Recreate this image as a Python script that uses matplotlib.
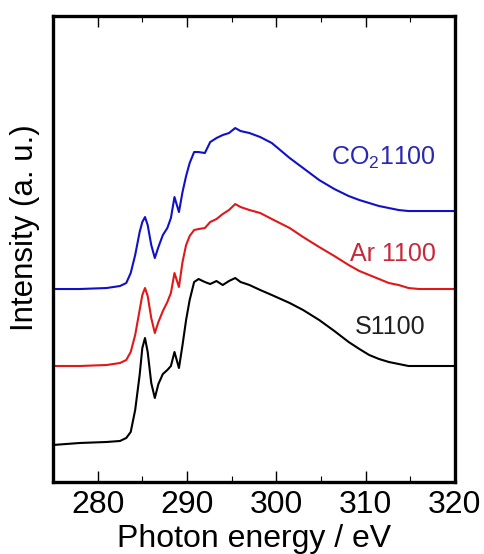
import matplotlib
matplotlib.use("Agg")
import matplotlib.pyplot as plt
from matplotlib.ticker import MultipleLocator, NullLocator

plt.rcParams['font.family'] = ['Liberation Sans', 'DejaVu Sans']
plt.rcParams['mathtext.default'] = 'regular'

energy = [275, 278, 281, 282.5, 283.2, 283.7, 284.2, 284.7, 285.0, 285.3, 285.6, 286.0,
          286.4, 286.8, 287.3, 287.8, 288.2, 288.6, 289.1, 289.5, 289.9, 290.3, 290.8,
          291.3, 292, 292.6, 293.3, 294, 294.7, 295.4, 296, 297, 298.2, 299.5, 301.5,
          303, 304.8, 306.5, 308.1, 309.3, 310.4, 311.5, 312.6, 313.7, 314.8, 316, 318, 320]

s1100 = [37, 39, 40, 41, 44, 50, 72, 107, 134, 144, 130, 99, 84, 98, 108, 112, 116, 130,
         114, 137, 162, 182, 200, 203, 200, 198, 201, 197, 201, 204, 200, 197, 192, 187,
         179, 172, 162, 151, 140, 133, 127, 123, 120, 118, 116, 116, 116, 116]

ar1100 = [116, 116, 117, 119, 122, 130, 147, 172, 187, 194, 186, 164, 149, 160, 171, 180,
          189, 209, 195, 220, 237, 246, 252, 253, 254, 260, 263, 268, 272, 278, 275, 272,
          269, 263, 254, 245, 235, 226, 217, 211, 207, 203, 199, 197, 194, 193, 193, 193]

co2_1100 = [193, 193, 194, 196, 199, 209, 227, 250, 260, 265, 257, 237, 224, 235, 247, 254,
            264, 285, 270, 290, 306, 319, 330, 330, 329, 340, 344, 347, 349, 354, 351, 349,
            345, 339, 324, 314, 302, 293, 286, 282, 279, 276, 274, 272, 271, 271, 271, 271]

labels = ['S1100', 'Ar 1100', 'CO$_2$1100']
line_colors = ['black', '#e01818', '#1010c8']
text_colors = ['#202020', '#c8283a', '#2828b0']
label_x = [316.7, 317.9, 317.9]
label_y = [155, 228, 324]

fig = plt.figure(figsize=(4.84, 5.54), dpi=100)
ax = fig.add_axes([0.1095, 0.130, 0.8305, 0.841])

for ys, c in zip([s1100, ar1100, co2_1100], line_colors):
    ax.plot(energy, ys, color=c, lw=1.5)

for lab, tc, lx, ly in zip(labels, text_colors, label_x, label_y):
    ax.text(lx, ly, lab, color=tc, fontsize=18, ha='right', va='center')

ax.set_xlim(275, 320)
ax.set_ylim(0, 466)
ax.xaxis.set_major_locator(MultipleLocator(10))
ax.xaxis.set_minor_locator(MultipleLocator(5))
ax.yaxis.set_major_locator(NullLocator())
ax.tick_params(axis='x', which='major', direction='in', top=True, bottom=True,
               length=8, width=1.0, labelsize=23, pad=6)
ax.tick_params(axis='x', which='minor', direction='in', top=True, bottom=True,
               length=4, width=0.8)
for sp in ax.spines.values():
    sp.set_linewidth(2.4)

ax.set_xlabel('Photon energy / eV', fontsize=23, labelpad=3)
ax.set_ylabel('Intensity (a. u.)', fontsize=22.5)
ax.yaxis.set_label_coords(-0.033, 0.545)

fig.savefig('out.png', dpi=100)
